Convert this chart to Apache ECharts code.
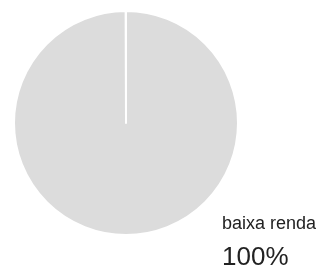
<!DOCTYPE html>
<html lang="pt">
<head>
    <meta charset="UTF-8">
    <title>Renda</title>
    <style>
        html, body { margin: 0; padding: 0; background: #fff; }
        #box { width: 324px; height: 270px; }
    </style>
</head>
<body>
    <div id="box"></div>
    <script src="https://cdn.jsdelivr.net/npm/echarts@6/dist/echarts.min.js"></script>
    <script>
        var categories = ['baixa renda'];
        var values = [100];
        var colors = ['#dcdcdc'];

        var total = values.reduce(function (a, b) { return a + b; }, 0);
        var pieData = categories.map(function (name, i) {
            return { name: name, value: values[i], itemStyle: { color: colors[i] } };
        });

        var box = echarts.init(document.getElementById('box'));
        var option = {
            animation: false,
            title: {
                text: categories[0],
                subtext: Math.round(values[0] / total * 100) + '%',
                left: 222,
                top: 215,
                padding: 0,
                itemGap: 12,
                textStyle: {
                    fontFamily: 'Liberation Sans, Arial, sans-serif',
                    fontSize: 18,
                    fontWeight: 'normal',
                    color: '#222'
                },
                subtextStyle: {
                    fontFamily: 'Liberation Sans, Arial, sans-serif',
                    fontSize: 26,
                    color: '#222'
                }
            },
            series: [
                {
                    type: 'pie',
                    center: [126, 123],
                    radius: 112,
                    startAngle: 90,
                    // leave a hairline so the slice edge shows as a white line
                    endAngle: 90 - 359.8,
                    silent: true,
                    label: { show: false },
                    labelLine: { show: false },
                    itemStyle: {
                        borderColor: '#fff',
                        borderWidth: 2
                    },
                    data: pieData
                }
            ]
        };
        box.setOption(option);
    </script>
</body>
</html>
